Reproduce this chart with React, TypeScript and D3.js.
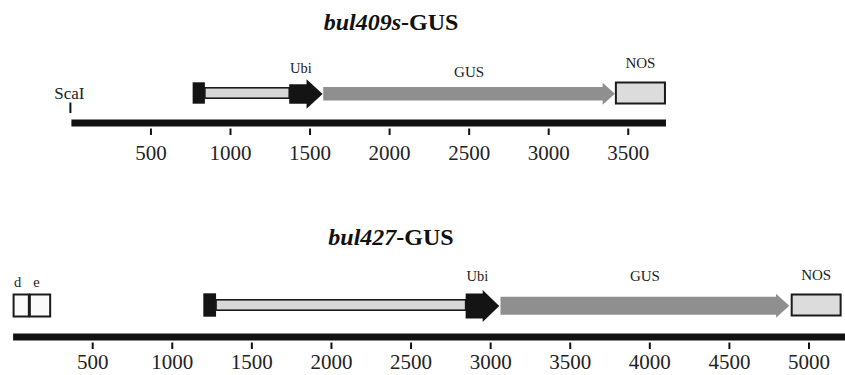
import React from "react";
import * as d3 from "d3";

// construct maps, positions in bp
const topTitle = ["bul409s", "-GUS"];
const topBackbone = [0, 3737];
const topTicks = [500, 1000, 1500, 2000, 2500, 3000, 3500];
const topElements = [
  { name: "cap", start: 762, end: 839 },
  { name: "promoter", start: 839, end: 1369 },
  { name: "Ubi", start: 1369, end: 1579, head: 1478 },
  { name: "GUS", start: 1583, end: 3416, head: 3339 },
  { name: "NOS", start: 3416, end: 3737 },
];
const topSites = [{ name: "ScaI", pos: 0 }];

const bottomTitle = ["bul427", "-GUS"];
const bottomBackbone = [0, 5240];
const bottomTicks = [500, 1000, 1500, 2000, 2500, 3000, 3500, 4000, 4500, 5000];
const bottomElements = [
  { name: "d", start: 0, end: 102 },
  { name: "e", start: 102, end: 236 },
  { name: "cap", start: 1195, end: 1275 },
  { name: "promoter", start: 1275, end: 2843 },
  { name: "Ubi", start: 2843, end: 3054, head: 2950 },
  { name: "GUS", start: 3062, end: 4876, head: 4793 },
  { name: "NOS", start: 4885, end: 5205 },
];

const FONT = "'Liberation Serif', 'Times New Roman', serif";

function arrowPath(x0, xh, x1, cy, bh, hh) {
  const p = d3.path();
  p.moveTo(x0, cy - bh);
  p.lineTo(xh, cy - bh);
  p.lineTo(xh, cy - hh);
  p.lineTo(x1, cy);
  p.lineTo(xh, cy + hh);
  p.lineTo(xh, cy + bh);
  p.lineTo(x0, cy + bh);
  p.closePath();
  return p.toString();
}

function Panel({ x, title, titleY, cy, barY, backbone, ticks, elements, sites, sz }) {
  const labelY = cy - sz.labelOff;
  return (
    <g>
      <text x={391} y={titleY} textAnchor="middle" fontFamily={FONT} fontSize={24}
        fontWeight="bold" fill="#111">
        <tspan fontStyle="italic">{title[0]}</tspan>
        <tspan>{title[1]}</tspan>
      </text>

      {/* backbone */}
      <rect x={x(backbone[0])} y={barY} width={x(backbone[1]) - x(backbone[0])}
        height={7} fill="#111" />
      {ticks.map((t) => (
        <g key={t}>
          <line x1={x(t)} x2={x(t)} y1={barY + 9} y2={barY + 15.5}
            stroke="#111" strokeWidth={2} />
          <text x={x(t)} y={barY + sz.tickLabel} textAnchor="middle" fontFamily={FONT}
            fontSize={21} fill="#222">{t}</text>
        </g>
      ))}

      {sites.map((s) => (
        <g key={s.name}>
          <line x1={x(s.pos) - 1} x2={x(s.pos) - 1} y1={barY - 17} y2={barY - 6.5}
            stroke="#111" strokeWidth={2} />
          <text x={x(s.pos) - 2} y={barY - 21} textAnchor="middle" fontFamily={FONT}
            fontSize={17} fill="#222">{s.name}</text>
        </g>
      ))}

      {elements.map((e) => {
        const x0 = x(e.start), x1 = x(e.end);
        if (e.name === "cap")
          return <rect key={e.name} x={x0} y={cy - sz.cap} width={x1 - x0}
            height={sz.cap * 2} fill="#141414" />;
        if (e.name === "promoter")
          return <rect key={e.name} x={x0} y={cy - 5.2} width={x1 - x0}
            height={10.4} fill="#d8d8d8" stroke="#1a1a1a" strokeWidth={1.6} />;
        if (e.name === "Ubi")
          return (
            <g key={e.name}>
              <path d={arrowPath(x0, x(e.head), x1, cy + sz.ubiShift, sz.ubiBody, sz.ubiHead)}
                fill="#141414" />
              <text x={(x0 + x1) / 2 - 5} y={sz.ubiLabel} textAnchor="middle"
                fontFamily={FONT} fontSize={14.5} fill="#222">Ubi</text>
            </g>
          );
        if (e.name === "GUS")
          return (
            <g key={e.name}>
              <path d={arrowPath(x0, x(e.head), x1, cy + 0.8, sz.gusBody, sz.gusHead)}
                fill="#8f8f8f" />
              <text x={(x0 + x1) / 2} y={sz.gusLabel} textAnchor="middle"
                fontFamily={FONT} fontSize={15} fill="#222">GUS</text>
            </g>
          );
        if (e.name === "NOS")
          return (
            <g key={e.name}>
              <rect x={x0 + 1} y={cy - 10.5} width={x1 - x0 - 2} height={21}
                fill="#dcdcdc" stroke="#1a1a1a" strokeWidth={2} />
              <text x={(x0 + x1) / 2} y={labelY} textAnchor="middle"
                fontFamily={FONT} fontSize={15} fill="#222">NOS</text>
            </g>
          );
        // small boxes d, e
        return (
          <g key={e.name}>
            <rect x={x0 + 0.5} y={cy - 10.5} width={x1 - x0 - 1} height={22}
              fill="#fafafa" stroke="#1a1a1a" strokeWidth={2} />
            <text x={(x0 + x1) / 2 - 3.5} y={cy - 18.5} textAnchor="middle"
              fontFamily={FONT} fontSize={14.5} fill="#222">{e.name}</text>
          </g>
        );
      })}
    </g>
  );
}

export default function App() {
  const xTop = d3.scaleLinear().domain([0, 5000]).range([71.4, 71.4 + 5000 * 0.1591]);
  const xBottom = d3.scaleLinear().domain([0, 5000]).range([13.1, 13.1 + 5000 * 0.15918]);

  return (
    <svg width={845} height={375}
      style={{ position: "absolute", left: 0, top: 0, background: "#fff" }}>
      <Panel x={xTop} title={topTitle} titleY={29.5} cy={93} barY={119.5}
        backbone={topBackbone} ticks={topTicks} elements={topElements} sites={topSites}
        sz={{ cap: 10.7, ubiBody: 9.7, ubiHead: 14.8, ubiShift: 1, gusBody: 6.8,
          gusHead: 11, labelOff: 25, ubiLabel: 73.3, gusLabel: 76.5, tickLabel: 40 }} />
      <Panel x={xBottom} title={bottomTitle} titleY={245} cy={305} barY={333.5}
        backbone={bottomBackbone} ticks={bottomTicks} elements={bottomElements} sites={[]}
        sz={{ cap: 11.7, ubiBody: 12.5, ubiHead: 16, ubiShift: 1, gusBody: 9,
          gusHead: 12, labelOff: 25, ubiLabel: 280.7, gusLabel: 280.7, tickLabel: 35.5 }} />
    </svg>
  );
}
